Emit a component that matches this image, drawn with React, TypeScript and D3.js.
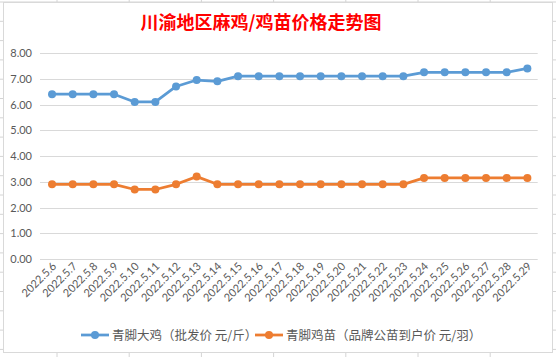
import React from "react";
import * as d3 from "d3";

const categories = ["2022.5.6","2022.5.7","2022.5.8","2022.5.9","2022.5.10","2022.5.11","2022.5.12","2022.5.13","2022.5.14","2022.5.15","2022.5.16","2022.5.17","2022.5.18","2022.5.19","2022.5.20","2022.5.21","2022.5.22","2022.5.23","2022.5.24","2022.5.25","2022.5.26","2022.5.27","2022.5.28","2022.5.29"];
const bigChicken = [6.4,6.4,6.4,6.4,6.1,6.1,6.7,6.95,6.9,7.1,7.1,7.1,7.1,7.1,7.1,7.1,7.1,7.1,7.25,7.25,7.25,7.25,7.25,7.4];
const chick = [2.9,2.9,2.9,2.9,2.7,2.7,2.9,3.2,2.9,2.9,2.9,2.9,2.9,2.9,2.9,2.9,2.9,2.9,3.15,3.15,3.15,3.15,3.15,3.15];
const yTicks = [0,1,2,3,4,5,6,7,8];
const seriesNames = ["青脚大鸡（批发价 元/斤）", "青脚鸡苗（品牌公苗到户价 元/羽）"];
const title = "川渝地区麻鸡/鸡苗价格走势图";

const W = 556, H = 357;
const BLUE = "#5B9BD5", ORANGE = "#ED7D31";
const numFont = "Lato, 'Liberation Sans', sans-serif";
const cjkFont = "'Noto Sans CJK SC', sans-serif";

export default function App() {
  const x = d3.scaleBand<string>().domain(categories).range([41.7, 537.7]);
  const cx = (c: string) => (x(c) as number) + x.bandwidth() / 2;
  const y = d3.scaleLinear().domain([0, 8]).range([259, 53]);
  const line = d3.line<number>().x((_, i) => cx(categories[i])).y((d) => y(d));

  const rows = d3.range(0, 20).map((k) => 2 + k * 19.3);
  const cols = d3.range(0, 8).map((k) => 57 + k * 72.2);

  const series = [
    { data: bigChicken, color: BLUE },
    { data: chick, color: ORANGE },
  ];

  return (
    <div style={{ position: "fixed", left: 0, top: 0 }}>
      <svg width={W} height={H} style={{ display: "block" }}>
        <rect x={0} y={0} width={W} height={H} fill="#fff" />
        {rows.map((r, i) => (
          <line key={"r" + i} x1={0} x2={W} y1={r} y2={r} stroke="#D4D4D4" strokeWidth={1} />
        ))}
        {cols.map((c, i) => (
          <line key={"c" + i} x1={c} x2={c} y1={0} y2={H} stroke="#D4D4D4" strokeWidth={1} />
        ))}
        <rect x={3.5} y={2.5} width={549} height={350} fill="#fff" stroke="#D9D9D9" strokeWidth={1} />
        <text x={261} y={29} textAnchor="middle" fill="#FF0000" fontSize={18} fontWeight="bold" fontFamily={cjkFont}>
          {title}
        </text>
        {yTicks.map((t) => (
          <g key={t}>
            <line x1={40} x2={537.7} y1={Math.round(y(t)) + 0.5} y2={Math.round(y(t)) + 0.5} stroke="#D9D9D9" strokeWidth={1} />
            <text x={32} y={y(t) + 4} textAnchor="end" fontSize={11} fill="#595959" fontFamily={numFont}>
              {d3.format(".2f")(t)}
            </text>
          </g>
        ))}
        {categories.map((c) => (
          <text
            key={c}
            transform={`translate(${cx(c) + 5},${267}) rotate(-45)`}
            textAnchor="end"
            fontSize={11}
            fill="#595959"
            fontFamily={numFont}
          >
            {c}
          </text>
        ))}
        {series.map((s, si) => (
          <g key={si}>
            <path d={line(s.data) || ""} fill="none" stroke={s.color} strokeWidth={2.75} strokeLinejoin="round" />
            {s.data.map((v, i) => (
              <circle key={i} cx={cx(categories[i])} cy={y(v)} r={4} fill={s.color} />
            ))}
          </g>
        ))}
        <g>
          <line x1={81} x2={109} y1={335} y2={335} stroke={BLUE} strokeWidth={2.75} />
          <circle cx={95} cy={335} r={4} fill={BLUE} />
          <text x={112} y={339.5} fontSize={12.5} fill="#595959" fontFamily={cjkFont}>{seriesNames[0]}</text>
          <line x1={255} x2={283} y1={335} y2={335} stroke={ORANGE} strokeWidth={2.75} />
          <circle cx={269} cy={335} r={4} fill={ORANGE} />
          <text x={286} y={339.5} fontSize={12.5} fill="#595959" fontFamily={cjkFont}>{seriesNames[1]}</text>
        </g>
      </svg>
    </div>
  );
}
